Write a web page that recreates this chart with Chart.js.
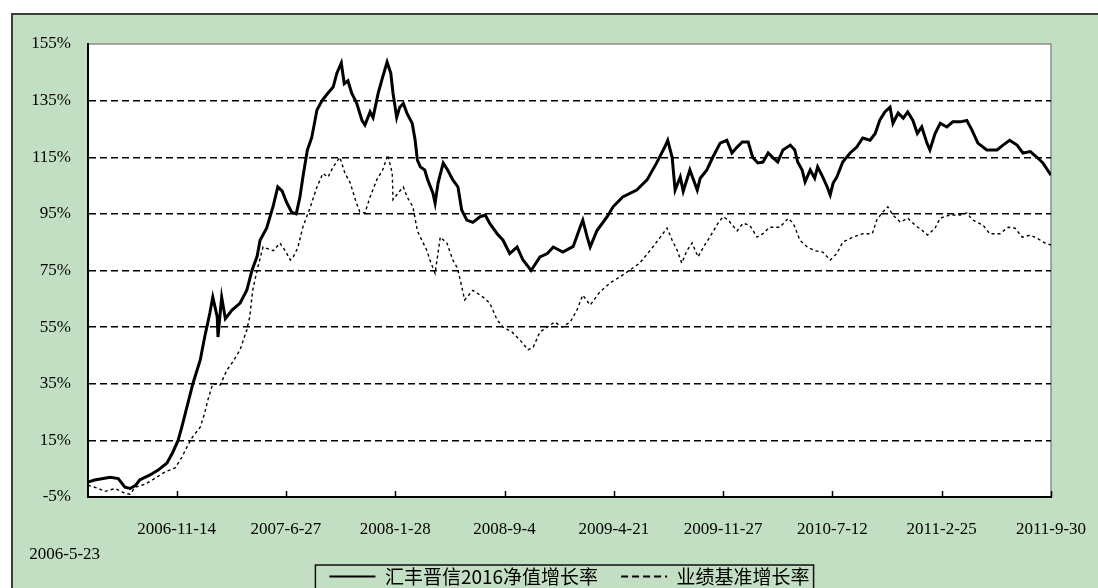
<!DOCTYPE html>
<html>
<head>
<meta charset="utf-8">
<script src="https://cdn.jsdelivr.net/npm/chart.js@4.4.0/dist/chart.umd.min.js"></script>
<style>
html,body{margin:0;padding:0;overflow:hidden;background:#fff;}
#wrap{position:absolute;left:0;top:0;width:1098px;height:600px;}
</style>
</head>
<body>
<div id="wrap"><canvas id="c" width="1098" height="600"></canvas></div>
<script>
// x axis: trading-day index since 2006-5-23
const tickDays = [0, 120, 268, 416, 564, 712, 860, 1008, 1156, 1304];
const tickLabels = ['2006-5-23', '2006-11-14', '2007-6-27', '2008-1-28', '2008-9-4',
  '2009-4-21', '2009-11-27', '2010-7-12', '2011-2-25', '2011-9-30'];
const yTickValues = [-5, 15, 35, 55, 75, 95, 115, 135, 155];

const seriesNames = ['汇丰晋信2016净值增长率', '业绩基准增长率'];

const navDays = [0,9,30,41,50,57,64,70,84,95,107,115,122,127,134,142,152,158,165,169,175,176,181,186,195,206,215,222,229,233,242,251,257,263,269,276,282,287,291,297,303,310,317,325,332,337,343,347,352,357,364,371,375,382,386,393,399,405,410,413,418,422,427,432,439,443,446,450,456,460,467,470,474,481,487,494,501,506,513,521,531,538,544,554,562,571,581,589,600,612,622,630,643,657,666,670,676,680,689,703,711,724,743,757,770,781,785,791,795,802,806,815,825,829,838,846,856,865,872,879,886,894,900,907,914,921,928,934,941,951,957,961,967,971,978,984,988,995,1001,1005,1009,1014,1022,1032,1041,1049,1059,1066,1072,1079,1086,1090,1097,1104,1110,1117,1123,1129,1136,1140,1147,1154,1163,1171,1181,1190,1197,1205,1217,1231,1239,1248,1258,1266,1276,1285,1293,1304];
const navValues = [0.3,1,2,1.5,-1.5,-2,-1,1,2.8,4.5,7,10.9,15,19.7,26.8,35,43.4,51.5,60,65.6,58.6,51.5,65.6,58,61,63.5,68,75,80,85.7,90,98,104.5,103,99,95.5,95,101,108,117.5,122,131.7,135,137.7,139.8,144.7,148.3,141,142,137.7,134,128,126.4,131,129,137.7,143.3,148.6,144.7,137.7,129,132.6,134,130.5,127,121,114,111.6,110.5,107,102.4,98.8,105.9,113,110.5,107,104.5,96.4,92.8,92,94,94.6,91.6,88,85.7,81,83.3,78.7,75,79.8,81,83.3,81.5,83.5,90,92.8,86.8,83.3,89,94,97.5,101,103.4,107,113,118.6,121,115,103.4,108,103,110.5,103.4,107.6,110.5,115,120,121,116.5,118.6,120.4,120.4,115,113,113.3,116.5,114.7,113.3,117.6,119.3,117.6,113.3,110.5,106.3,110.5,107.6,111.6,108,104.5,101.7,105.9,108,113.3,116.5,118.6,121.8,121,123.4,128,131,132.7,127,130.6,128.8,131,128,123.4,125.7,120,117.6,123.4,127,125.7,127.5,127.5,128,124.6,120,117.6,117.6,119.3,121,119.3,116.5,117,115,113,108.7];

const benchDays = [0,14,23,37,50,57,64,77,87,104,118,127,134,141,152,158,162,169,179,188,196,206,215,219,223,229,237,251,260,267,274,278,284,291,301,310,318,325,332,341,348,355,362,368,375,382,391,399,406,412,413,420,427,432,440,446,452,459,463,470,477,486,494,500,504,510,521,535,544,554,562,574,585,596,603,612,622,632,642,653,662,670,680,693,707,720,734,747,761,775,784,791,798,804,811,818,826,835,842,853,860,867,879,887,896,906,914,923,937,948,955,964,974,984,995,1005,1014,1022,1036,1049,1062,1068,1075,1083,1090,1100,1110,1120,1129,1137,1147,1154,1167,1181,1190,1198,1212,1221,1235,1246,1255,1265,1276,1285,1296,1304];
const benchValues = [-0.8,-2,-3,-2,-3.7,-4,-1.5,-0.5,1,3.8,5.3,9,12.7,16,19.7,24.6,29,35,34.6,39.8,42.7,47,54,58.6,68,75.2,83.3,82,84.7,82,78.7,79.8,83,90.4,97.4,104.5,109.3,108,111.6,115,109.3,106,100,95.7,95.3,101,107,110.5,115.8,109.3,100,102.4,104.5,101,97.5,89,85.7,82,78.7,74,86.8,84.7,78.7,76,71.7,64.6,68,65.6,63.5,57.5,55,53.3,50.4,47,48,53.3,55,56.8,55,56.8,61,66.3,62.8,67.4,70.6,72.7,75.2,77.6,82,86.8,90,85.7,82,77.6,82,84.7,79.8,84,86.8,91.7,94,92.8,89,91.7,91,86.8,88,90.3,90.3,93.4,91.7,85.7,83.3,82,81.5,78.7,81,85,86.8,88,88,92.8,95.3,97.5,94.6,92.1,93.5,91,89.3,87.5,90,93.5,94.6,94.6,95.3,92.8,91,88,88,90.3,90,86.8,87.5,86.4,84.7,84];

const toPoints = (xs, ys) => xs.map((x, i) => ({ x: x, y: ys[i] }));

const SERIF = "'Liberation Serif', 'Times New Roman', serif";
const CJK = "'Noto Sans CJK SC', 'Noto Sans', sans-serif";

const framePlugin = {
  id: 'frame',
  beforeDraw(chart) {
    const ctx = chart.ctx, a = chart.chartArea;
    ctx.save();
    ctx.fillStyle = '#ffffff';
    ctx.fillRect(0, 0, chart.width, chart.height);
    ctx.fillStyle = '#c3dfc3';
    ctx.fillRect(12, 14, chart.width, chart.height);
    ctx.strokeStyle = '#3c3c3c';
    ctx.lineWidth = 2;
    ctx.beginPath();
    ctx.moveTo(12, chart.height + 5);
    ctx.lineTo(12, 14);
    ctx.lineTo(chart.width + 5, 14);
    ctx.stroke();
    ctx.fillStyle = '#ffffff';
    ctx.fillRect(a.left, a.top, a.right - a.left, a.bottom - a.top);
    ctx.strokeStyle = '#8c8c8c';
    ctx.lineWidth = 1.5;
    ctx.beginPath();
    ctx.moveTo(a.left, a.top);
    ctx.lineTo(a.right, a.top);
    ctx.lineTo(a.right, a.bottom);
    ctx.stroke();
    ctx.restore();
  },
  afterDraw(chart) {
    const ctx = chart.ctx, a = chart.chartArea, xs = chart.scales.x;
    ctx.save();
    ctx.strokeStyle = '#000';
    ctx.lineWidth = 1.5;
    ctx.beginPath();
    tickDays.forEach((d, i) => {
      if (i === 0) return;
      const px = Math.round(xs.getPixelForValue(d)) + 0.5;
      ctx.moveTo(px, a.bottom);
      ctx.lineTo(px, a.bottom - 6);
    });
    ctx.stroke();
    const lg = chart.legend;
    const hb = lg.legendHitBoxes;
    if (hb && hb.length) {
      const last = hb[hb.length - 1];
      const left = hb[0].left - 14;
      const right = last.left + last.width + 4;
      const top = lg.top + lg.options.labels.padding - 2;
      ctx.lineWidth = 1.5;
      ctx.strokeStyle = '#111';
      ctx.strokeRect(left, top, right - left, 40);
    }
    ctx.restore();
  }
};

new Chart(document.getElementById('c'), {
  type: 'line',
  data: {
    datasets: [
      {
        label: seriesNames[0],
        data: toPoints(navDays, navValues),
        borderColor: '#000',
        borderWidth: 3,
        pointRadius: 0,
        tension: 0,
        fill: false
      },
      {
        label: seriesNames[1],
        data: toPoints(benchDays, benchValues),
        borderColor: '#000',
        borderWidth: 1.4,
        borderDash: [3, 3],
        pointRadius: 0,
        tension: 0,
        fill: false
      }
    ]
  },
  options: {
    responsive: false,
    animation: false,
    devicePixelRatio: 1,
    layout: { padding: { left: 12, top: 44, right: 47, bottom: 4 } },
    plugins: {
      tooltip: { enabled: false },
      legend: {
        position: 'bottom',
        fullSize: false,
        labels: {
          usePointStyle: true,
          pointStyleWidth: 46,
          padding: 4,
          color: '#000',
          font: { family: CJK, size: 19 },
          generateLabels(chart) {
            return chart.data.datasets.map((ds, i) => ({
              text: i === 0 ? ds.label + '\u3000' : ds.label,
              datasetIndex: i,
              pointStyle: 'line',
              strokeStyle: '#000',
              fillStyle: 'rgba(0,0,0,0)',
              lineWidth: 2,
              lineDash: i === 0 ? [] : [7, 4],
              fontColor: '#000',
              hidden: false
            }));
          }
        }
      }
    },
    scales: {
      x: {
        type: 'linear',
        min: 0,
        max: 1304,
        afterFit(scale) { scale.height = 66; scale.paddingLeft = 0; scale.paddingRight = 0; },
        afterBuildTicks(scale) { scale.ticks = tickDays.map(v => ({ value: v })); },
        grid: { display: false, drawTicks: false },
        border: { display: true, color: '#000', width: 2 },
        ticks: {
          autoSkip: false,
          maxRotation: 0,
          minRotation: 0,
          padding: 20.7,
          color: '#000',
          font: { family: SERIF, size: 17, lineHeight: 1.45 },
          callback(value) {
            const i = tickDays.indexOf(value);
            if (i === 0) return ['', tickLabels[0] + '\u00a0'.repeat(11)];
            return i >= 0 ? tickLabels[i] : '';
          }
        }
      },
      y: {
        min: -5,
        max: 155,
        afterFit(scale) { scale.width = 76; },
        afterBuildTicks(scale) { scale.ticks = yTickValues.map(v => ({ value: v })); },
        grid: {
          drawTicks: false,
          lineWidth: 1.4,
          color: c => (c.tick && (c.tick.value === 155 || c.tick.value === -5)) ? 'rgba(0,0,0,0)' : '#000'
        },
        border: { display: true, color: '#000', width: 2, dash: [7, 4] },
        ticks: {
          padding: 17,
          color: '#000',
          font: { family: SERIF, size: 17 },
          callback: v => v + '%'
        }
      }
    }
  },
  plugins: [framePlugin]
});
</script>
</body>
</html>
